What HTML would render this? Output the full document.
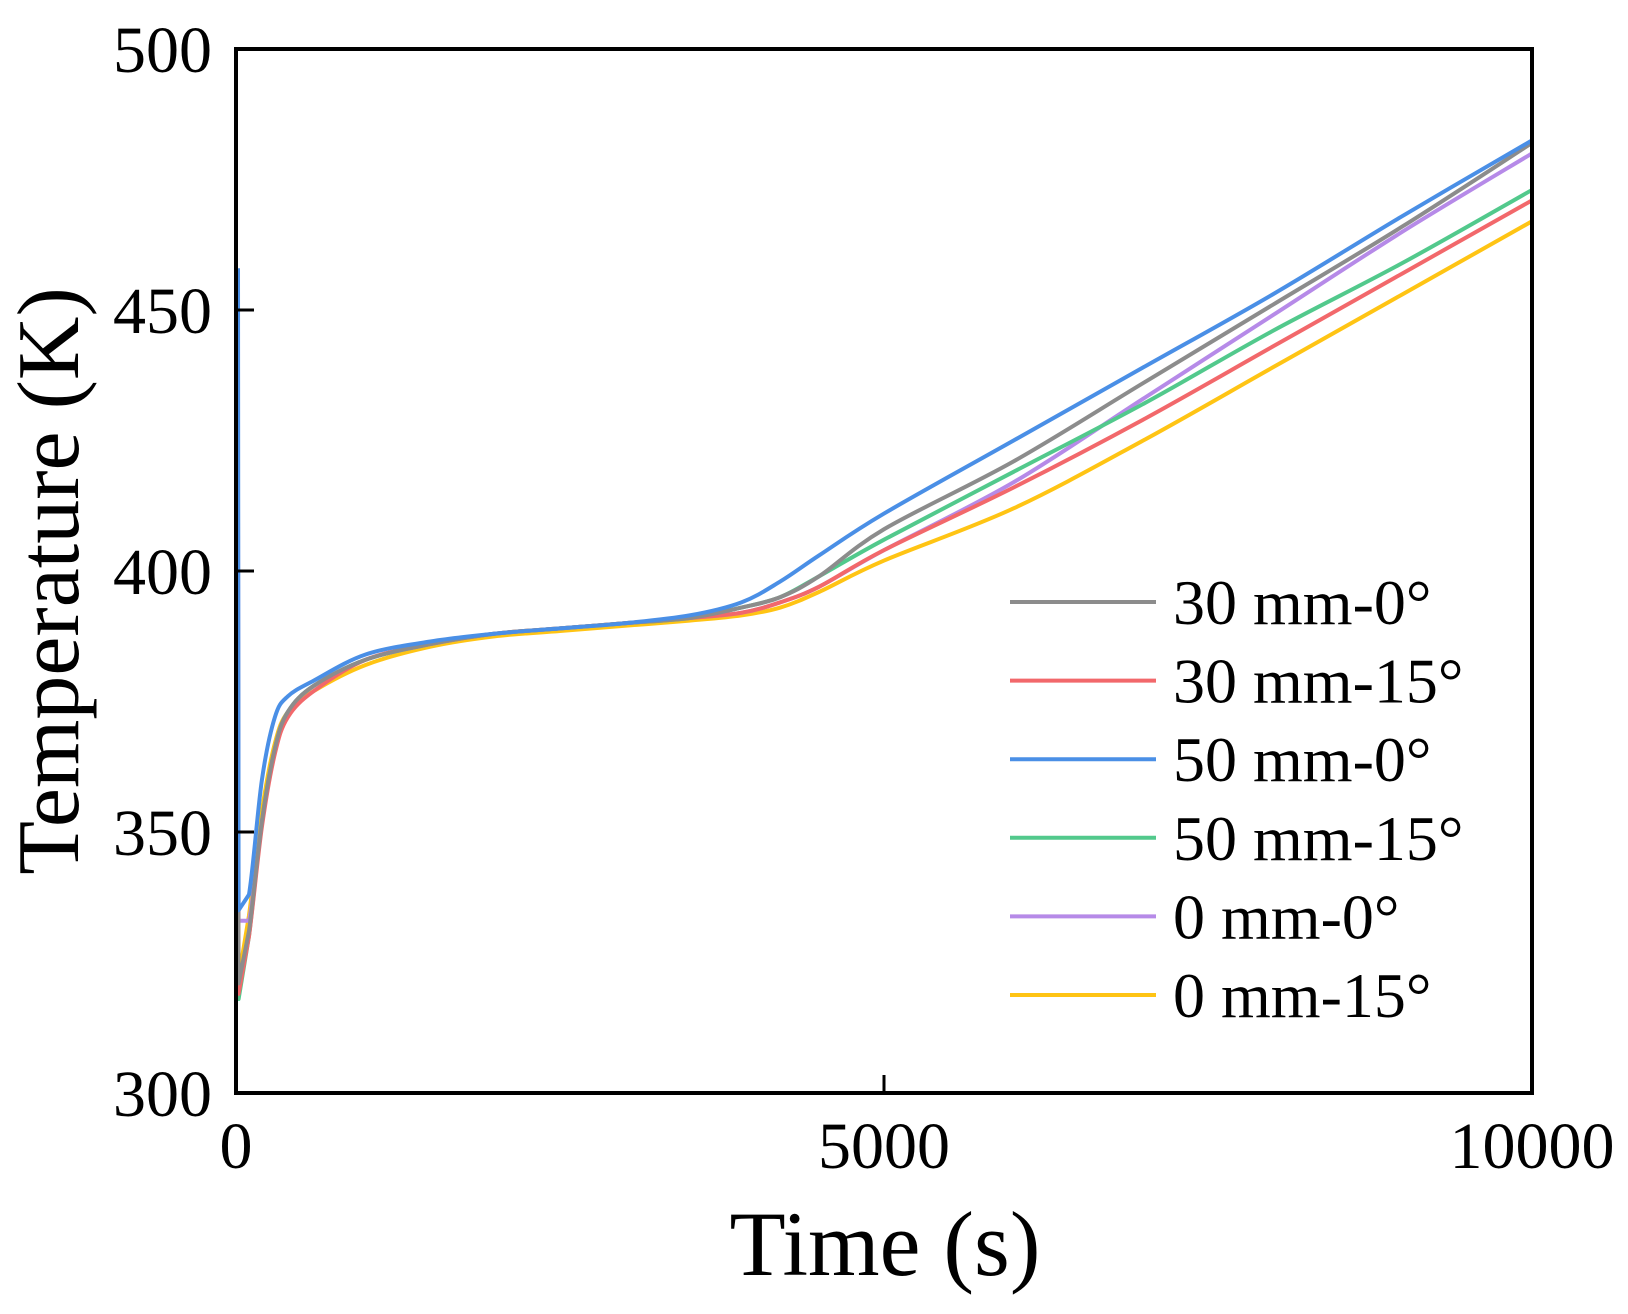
<!DOCTYPE html>
<html><head><meta charset="utf-8"><style>
html,body{margin:0;padding:0;background:#fff}
svg{display:block}
text{font-family:"Liberation Serif",serif;fill:#000}
</style></head><body>
<svg id="chart" width="1628" height="1314" viewBox="0 0 1628 1314" xmlns="http://www.w3.org/2000/svg">
<g id="series"></g>
<rect x="236" y="49" width="1296" height="1044" fill="none" stroke="#000" stroke-width="4"/>
<g id="axes"></g>
<text x="885" y="1275" font-size="92" text-anchor="middle">Time (s)</text>
<text transform="translate(78,581) rotate(-90)" font-size="88" text-anchor="middle">Temperature (K)</text>
<g id="legend"></g>
</svg>
<script>
const xTicks=[0,5000,10000];
const yTicks=[300,350,400,450,500];
const seriesNames=["30 mm-0°","30 mm-15°","50 mm-0°","50 mm-15°","0 mm-0°","0 mm-15°"];
const seriesColors=["#8c8c8c","#f2686b","#4a8fe6","#52c98c","#b68ae8","#ffc414"];
const times=[0,20,100,200,300,400,600,1000,1500,2000,2500,3000,3500,3900,4200,4500,5000,6000,7000,8000,9000,10000];
const s30_0 =[340,321,331,352,366,373,378,383,386,388,389,390,391,393,395,399,408,421,436,451,466,482];
const s30_15=[340,319,330,351,365,372,377,383,386,388,389,390,391,392,394,397,404,416,429,443,457,471];
const s50_0 =[458,335,338,360,372,376,379,384,386.5,388,389,390,391.5,394,398,403,411,425,439,453,468,482.5];
const s50_15=[350,318,330,352,366,373,378,383,386,388,389,390,391,393,395,399,406,419,432,446,459,473];
const s0_0  =[412,333,333,352,366,373,378,383,386,388,389,390,391,392,394,397,404,417,433,449,465,480];
const s0_15 =[393,322,334,354,367,373,377,382,385.5,387.5,388.5,389.5,390.5,391.5,393,396,402,412,425,439,453,467];
const seriesValues=[s30_0,s30_15,s50_0,s50_15,s0_0,s0_15];

const L=236,R=1532,T=49,B=1093;
const xs=t=>L+(t-0)/(10000-0)*(R-L);
const ys=v=>B-(v-300)/(500-300)*(B-T);
const NS="http://www.w3.org/2000/svg";
const sg=document.getElementById('series');
const plotOrder=[5,4,3,1,0,2];
plotOrder.forEach(i=>{
  const vals=seriesValues[i];
  const pts=times.map((t,k)=>[xs(t)+(k===0?2:0),ys(vals[k])]);
  let d="M"+pts[0][0]+","+pts[0][1];
  for(let k=0;k<pts.length-1;k++){
    const p0=pts[Math.max(0,k-1)],p1=pts[k],p2=pts[k+1],p3=pts[Math.min(pts.length-1,k+2)];
    const c1=[p1[0]+(p2[0]-p0[0])/6,p1[1]+(p2[1]-p0[1])/6];
    const c2=[p2[0]-(p3[0]-p1[0])/6,p2[1]-(p3[1]-p1[1])/6];
    if(k<2) d+=" L"+p2[0]+","+p2[1];
    else d+=" C"+c1[0]+","+c1[1]+" "+c2[0]+","+c2[1]+" "+p2[0]+","+p2[1];
  }
  const p=document.createElementNS(NS,'path');
  p.setAttribute('d',d);p.setAttribute('fill','none');
  p.setAttribute('stroke',seriesColors[i]);p.setAttribute('stroke-width','4');
  p.setAttribute('stroke-linejoin','round');
  
  
  sg.appendChild(p);
});
const ax=document.getElementById('axes');
yTicks.forEach(v=>{
  const y=ys(v);
  if(v>300&&v<500){const l=document.createElementNS(NS,'line');
  l.setAttribute('x1',L);l.setAttribute('x2',L+18);l.setAttribute('y1',y);l.setAttribute('y2',y);
  l.setAttribute('stroke','#000');l.setAttribute('stroke-width','3');
  
  
  ax.appendChild(l);}
  const t=document.createElementNS(NS,'text');
  t.setAttribute('x',212);t.setAttribute('y',y+23);t.setAttribute('font-size','66');t.setAttribute('text-anchor','end');
  t.textContent=v;
  
  
  ax.appendChild(t);
});
xTicks.forEach(v=>{
  const x=xs(v);
  if(v>0&&v<10000){const l=document.createElementNS(NS,'line');
  l.setAttribute('x1',x);l.setAttribute('x2',x);l.setAttribute('y1',B);l.setAttribute('y2',B-18);
  l.setAttribute('stroke','#000');l.setAttribute('stroke-width','3');
  
  
  ax.appendChild(l);}
  const t=document.createElementNS(NS,'text');
  t.setAttribute('x',x);t.setAttribute('y',1168);t.setAttribute('font-size','66');t.setAttribute('text-anchor','middle');
  t.textContent=v;
  
  
  ax.appendChild(t);
});
const lg=document.getElementById('legend');
seriesNames.forEach((n,i)=>{
  const y=602+i*78.6;
  const l=document.createElementNS(NS,'line');
  l.setAttribute('x1',1010);l.setAttribute('x2',1156);l.setAttribute('y1',y);l.setAttribute('y2',y);
  l.setAttribute('stroke',seriesColors[i]);l.setAttribute('stroke-width','4');
  
  
  lg.appendChild(l);
  const t=document.createElementNS(NS,'text');
  t.setAttribute('x',1173);t.setAttribute('y',y+22);t.setAttribute('font-size','64');
  t.textContent=n;
  
  
  lg.appendChild(t);
});
</script>
</body></html>
